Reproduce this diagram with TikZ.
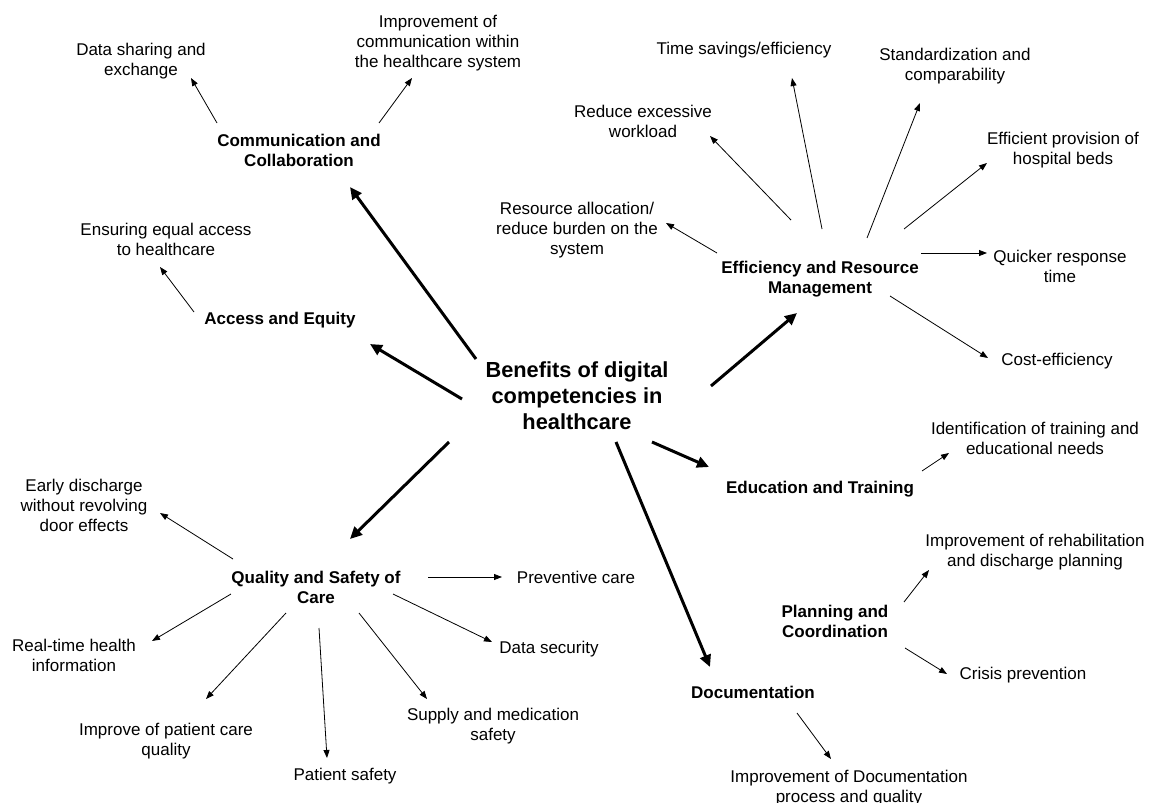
\documentclass[tikz,border=0pt]{standalone}
\usepackage{fontspec}
\setmainfont{Liberation Sans}
\usetikzlibrary{arrows.meta}
\tikzset{
  lbl/.style={inner sep=0pt, align=center, font=\fontsize{17}{20}\selectfont},
  cat/.style={inner sep=0pt, align=center, font=\fontsize{17}{20}\selectfont\bfseries},
  ttl/.style={inner sep=0pt, align=center, font=\fontsize{21.8}{26}\selectfont\bfseries},
  thinarr/.style={line width=0.8pt, -{Triangle[length=8pt,width=6pt]}},
  thickarr/.style={line width=3pt, -{Triangle[length=12pt,width=11pt]}}
}
\begin{document}
\begin{tikzpicture}[x=1pt,y=-1pt]
\useasboundingbox (0,0) rectangle (1151,803);
\fill[white] (0,0) rectangle (1151,803);
% nodes
\node[ttl] (title) at (577,396) {Benefits of digital\\competencies in\\healthcare};
\node[cat] (comm) at (299,150) {Communication and\\Collaboration};
\node[lbl] (data) at (141,61) {Data sharing and\\exchange};
\node[lbl] (impcomm) at (438,43) {Improvement of\\communication within\\the healthcare system};
\node[cat] (access) at (280,320) {Access and Equity};
\node[lbl] (equal) at (166,239) {Ensuring equal access\\to healthcare};
\node[cat] (eff) at (820,279) {Efficiency and Resource\\Management};
\node[lbl] (resource) at (577,230) {Resource allocation/\\reduce burden on the\\system};
\node[lbl] (reduce) at (643,121) {Reduce excessive\\workload};
\node[lbl] (time) at (744,50) {Time savings/efficiency};
\node[lbl] (std) at (955,66) {Standardization and\\comparability};
\node[lbl] (beds) at (1063,150) {Efficient provision of\\hospital beds};
\node[lbl] (quicker) at (1060,266) {Quicker response\\time};
\node[lbl] (cost) at (1057,361) {Cost-efficiency};
\node[cat] (edu) at (820,489) {Education and Training};
\node[lbl] (ident) at (1035,438) {Identification of training and\\educational needs};
\node[cat] (plan) at (835,621) {Planning and\\Coordination};
\node[lbl] (rehab) at (1035,552) {Improvement of rehabilitation\\and discharge planning};
\node[lbl] (crisis) at (1023,675) {Crisis prevention};
\node[cat] (doc) at (753,692) {Documentation};
\node[lbl] (impdoc) at (849,788) {Improvement of Documentation\\process and quality};
\node[cat] (quality) at (316,587) {Quality and Safety of\\Care};
\node[lbl] (early) at (84,505) {Early discharge\\without revolving\\door effects};
\node[lbl] (prevent) at (576,577) {Preventive care};
\node[lbl] (realtime) at (74,655) {Real-time health\\information};
\node[lbl] (improve) at (166,741) {Improve of patient care\\quality};
\node[lbl] (psafety) at (345,776) {Patient safety};
\node[lbl] (supply) at (493,726) {Supply and medication\\safety};
\node[lbl] (datasec) at (549,649) {Data security};
% thick connectors
\draw[thickarr] ([shift={(-101,-37)}]title.center) -- ([shift={(51,37)}]comm.center);
\draw[thickarr] ([shift={(-115,3)}]title.center) -- ([shift={(90,24)}]access.center);
\draw[thickarr] ([shift={(134,-10)}]title.center) -- ([shift={(-23,34)}]eff.center);
\draw[thickarr] ([shift={(75,46)}]title.center) -- ([shift={(-111,-22)}]edu.center);
\draw[thickarr] ([shift={(39,46)}]title.center) -- ([shift={(-43,-25)}]doc.center);
\draw[thickarr] ([shift={(-128,46)}]title.center) -- ([shift={(34,-48)}]quality.center);
% thin connectors
\draw[thinarr] ([shift={(-82,-27)}]comm.center) -- ([shift={(50,17)}]data.center);
\draw[thinarr] ([shift={(80,-27)}]comm.center) -- ([shift={(-26,35)}]impcomm.center);
\draw[thinarr] ([shift={(-86,-8)}]access.center) -- ([shift={(-6,28)}]equal.center);
\draw[thinarr] ([shift={(-103,-26)}]eff.center) -- ([shift={(89,-7)}]resource.center);
\draw[thinarr] ([shift={(-29,-59)}]eff.center) -- ([shift={(67,15)}]reduce.center);
\draw[thinarr] ([shift={(2,-50)}]eff.center) -- ([shift={(48,28)}]time.center);
\draw[thinarr] ([shift={(47,-41)}]eff.center) -- ([shift={(-35,37)}]std.center);
\draw[thinarr] ([shift={(84,-50)}]eff.center) -- ([shift={(-76,13)}]beds.center);
\draw[thinarr] ([shift={(101,-26)}]eff.center) -- ([shift={(-73,-13)}]quicker.center);
\draw[thinarr] ([shift={(70,17)}]eff.center) -- ([shift={(-69,-3)}]cost.center);
\draw[thinarr] ([shift={(102,-18)}]edu.center) -- ([shift={(-86,15)}]ident.center);
\draw[thinarr] ([shift={(69,-19)}]plan.center) -- ([shift={(-106,18)}]rehab.center);
\draw[thinarr] ([shift={(70,27)}]plan.center) -- ([shift={(-76,-1)}]crisis.center);
\draw[thinarr] ([shift={(44,21)}]doc.center) -- ([shift={(-18,-29)}]impdoc.center);
\draw[thinarr] ([shift={(-83,-28)}]quality.center) -- ([shift={(76,8)}]early.center);
\draw[thinarr] ([shift={(112,-10)}]quality.center) -- ([shift={(-74,0)}]prevent.center);
\draw[thinarr] ([shift={(-85,7)}]quality.center) -- ([shift={(78,-14)}]realtime.center);
\draw[thinarr] ([shift={(-30,26)}]quality.center) -- ([shift={(40,-42)}]improve.center);
\draw[thinarr] ([shift={(3,41)}]quality.center) -- ([shift={(-18,-18)}]psafety.center);
\draw[thinarr] ([shift={(43,26)}]quality.center) -- ([shift={(-66,-27)}]supply.center);
\draw[thinarr] ([shift={(77,7)}]quality.center) -- ([shift={(-57,-7)}]datasec.center);
\end{tikzpicture}
\end{document}
